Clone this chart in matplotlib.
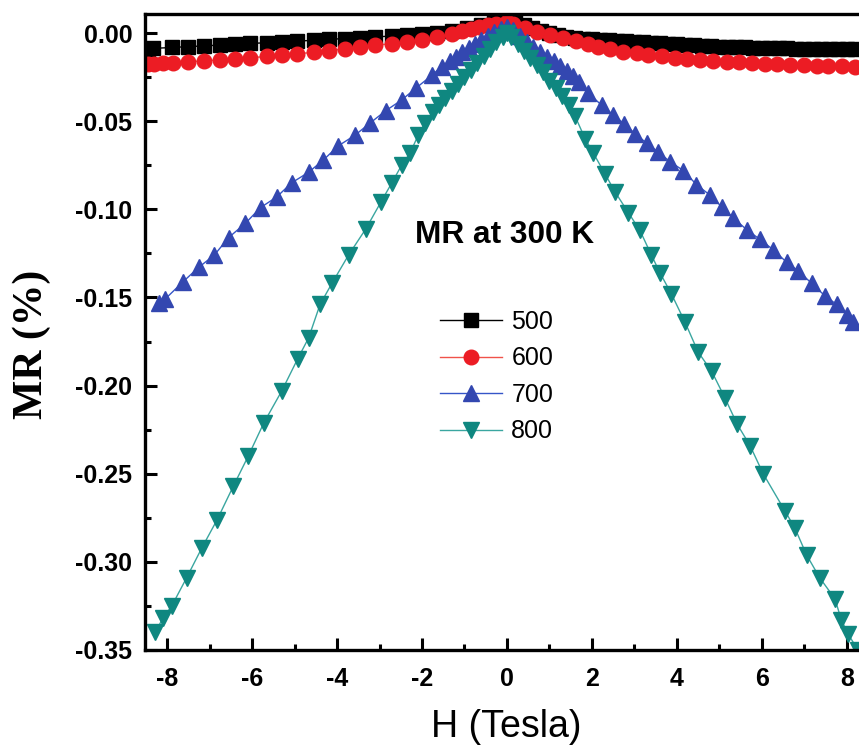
import matplotlib
matplotlib.use("Agg")
import matplotlib.pyplot as plt
from matplotlib.ticker import MultipleLocator, FormatStrFormatter

plt.rcParams['axes.unicode_minus'] = False
plt.rcParams['font.family'] = ['Liberation Sans', 'DejaVu Sans']

# 500
h_500 = [-8.45, -8.33, -7.89, -7.5, -7.14, -6.75, -6.4, -6.05, -5.65, -5.3, -4.95, -4.55,
         -4.2, -3.81, -3.46, -3.1, -2.71, -2.36, -2.0, -1.65, -1.3, -0.95, -0.6, -0.3, 0.0,
         0.2, 0.4, 0.6, 0.8, 1.0, 1.2, 1.4, 1.6, 1.8, 2.0, 2.2, 2.4, 2.6, 2.8, 3.0, 3.2, 3.4,
         3.6, 3.8, 4.0, 4.2, 4.4, 4.6, 4.8, 5.0, 5.2, 5.4, 5.6, 5.8, 6.0, 6.2, 6.4, 6.6, 6.8,
         7.0, 7.2, 7.4, 7.6, 7.8, 8.0, 8.2]
mr_500 = [-0.0089, -0.0087, -0.0082, -0.0077, -0.0073, -0.0068, -0.0064, -0.0059, -0.0055,
          -0.0050, -0.0046, -0.0041, -0.0036, -0.0031, -0.0027, -0.0022, -0.0017, -0.0012,
          -0.0006, 0.0000, 0.0014, 0.0030, 0.0048, 0.0065, 0.0085,
          0.0065, 0.0045, 0.0028, 0.0012, 0.0000, -0.0012, -0.0022, -0.0028, -0.0032, -0.0035,
          -0.0038, -0.0041, -0.0043, -0.0046, -0.0049, -0.0052, -0.0055, -0.0058, -0.0061,
          -0.0064, -0.0067, -0.0070, -0.0073, -0.0075, -0.0077, -0.0079, -0.0081, -0.0082,
          -0.0083, -0.0084, -0.0085, -0.0086, -0.0087, -0.0088, -0.0089, -0.0089, -0.0090,
          -0.0090, -0.0091, -0.0091, -0.0092]

# 600
h_600 = [-8.45, -8.3, -8.1, -7.85, -7.5, -7.14, -6.75, -6.4, -6.05, -5.65, -5.3, -4.95, -4.55,
         -4.2, -3.81, -3.46, -3.1, -2.71, -2.36, -2.0, -1.65, -1.30, -1.07, -0.85, -0.65, -0.45,
         -0.25, 0.0, 0.15, 0.43, 0.71, 1.02, 1.33, 1.62, 1.90, 2.15, 2.42, 2.74, 3.05, 3.33,
         3.64, 3.95, 4.23, 4.55, 4.86, 5.17, 5.45, 5.76, 6.07, 6.35, 6.66, 6.98, 7.29, 7.56,
         7.88, 8.19]
mr_600 = [-0.0176, -0.0173, -0.0171, -0.0168, -0.0163, -0.0158, -0.0152, -0.0146, -0.0140,
          -0.0133, -0.0127, -0.0117, -0.0110, -0.0100, -0.0090, -0.0080, -0.0070, -0.0060,
          -0.0050, -0.0037, -0.0022, -0.0005, 0.0010, 0.0022, 0.0033, 0.0043, 0.0052, 0.0060,
          0.0050, 0.0027, 0.0005, -0.0012, -0.0027, -0.0045, -0.0062, -0.0078, -0.0093, -0.0105,
          -0.0115, -0.0124, -0.0133, -0.0141, -0.0147, -0.0153, -0.0158, -0.0163, -0.0166,
          -0.0171, -0.0175, -0.0178, -0.0181, -0.0183, -0.0185, -0.0187, -0.0188, -0.0191]

# 700
h_700 = [-8.2, -8.05, -7.62, -7.26, -6.89, -6.55, -6.16, -5.80, -5.42, -5.07, -4.67, -4.32,
         -3.97, -3.58, -3.22, -2.85, -2.48, -2.13, -1.77, -1.54, -1.35, -1.2, -1.05, -0.9,
         -0.75, -0.6, -0.45, -0.3, -0.15, 0.0, 0.15, 0.3, 0.47, 0.62, 0.78, 0.94, 1.1, 1.25,
         1.41, 1.55, 1.69, 1.91, 2.23, 2.50, 2.76, 3.01, 3.29, 3.56, 3.84, 4.15, 4.46, 4.78,
         5.05, 5.33, 5.64, 5.95, 6.27, 6.58, 6.86, 7.17, 7.48, 7.76, 8.0, 8.15]
mr_700 = [-0.153, -0.151, -0.141, -0.133, -0.126, -0.116, -0.108, -0.099, -0.093, -0.085,
          -0.079, -0.072, -0.064, -0.058, -0.051, -0.044, -0.038, -0.031, -0.024, -0.019,
          -0.016, -0.0135, -0.011, -0.0087, -0.0063, -0.0040, -0.0017, 0.0005, 0.0025, 0.0035,
          0.0015, -0.0015, -0.0050, -0.0080, -0.0110, -0.0135, -0.0160, -0.0185, -0.0215,
          -0.0245, -0.0275, -0.0340, -0.0410, -0.0465, -0.0515, -0.0570, -0.0625, -0.0675,
          -0.0730, -0.0780, -0.0860, -0.0920, -0.0985, -0.1050, -0.1115, -0.1170, -0.1230,
          -0.1300, -0.1350, -0.1420, -0.1490, -0.1540, -0.1600, -0.1640]

# 800
h_800 = [-8.28, -8.10, -7.89, -7.54, -7.18, -6.82, -6.44, -6.09, -5.72, -5.30, -4.93, -4.67,
         -4.40, -4.12, -3.73, -3.32, -2.97, -2.71, -2.48, -2.28, -2.09, -1.93, -1.75, -1.6,
         -1.45, -1.3, -1.15, -1.0, -0.85, -0.7, -0.55, -0.4, -0.25, -0.1, 0.0, 0.1, 0.25, 0.4,
         0.55, 0.7, 0.85, 1.0, 1.15, 1.3, 1.45, 1.6, 1.84, 2.03, 2.31, 2.54, 2.86, 3.13, 3.40,
         3.60, 3.87, 4.19, 4.50, 4.82, 5.13, 5.42, 5.72, 6.03, 6.54, 6.78, 7.05, 7.36, 7.72,
         7.87, 8.03, 8.26]
mr_800 = [-0.340, -0.332, -0.325, -0.309, -0.292, -0.276, -0.257, -0.240, -0.221, -0.203,
          -0.185, -0.173, -0.154, -0.142, -0.126, -0.111, -0.096, -0.085, -0.075, -0.068,
          -0.058, -0.051, -0.045, -0.041, -0.037, -0.033, -0.029, -0.025, -0.021, -0.017,
          -0.013, -0.009, -0.005, -0.002, 0.000, -0.002, -0.006, -0.010, -0.014, -0.018,
          -0.022, -0.027, -0.031, -0.036, -0.041, -0.047, -0.060, -0.068, -0.080, -0.090,
          -0.102, -0.112, -0.126, -0.136, -0.148, -0.164, -0.181, -0.192, -0.207, -0.222,
          -0.234, -0.250, -0.271, -0.281, -0.296, -0.309, -0.321, -0.333, -0.341, -0.350]

fig = plt.figure(figsize=(8.59, 7.49), dpi=100)
ax = fig.add_axes([0.1688, 0.1322, 0.8428, 0.8491])

ax.plot(h_500, mr_500, '-s', color='black', lw=1.0, ms=10, mec='black', label='500')
ax.plot(h_600, mr_600, '-o', color='#f0524a', lw=1.0, ms=10.5, mfc='#ec1c24', mec='#ec1c24', label='600')
ax.plot(h_700, mr_700, '-^', color='#3555c8', lw=1.0, ms=11.5, mfc='#3347b0', mec='#3347b0', label='700')
ax.plot(h_800, mr_800, '-v', color='#3aa6a0', lw=1.0, ms=11, mfc='#0f8780', mec='#0f8780', label='800')

ax.set_xlim(-8.52, 8.52)
ax.set_ylim(-0.35, 0.0108)

ax.xaxis.set_major_locator(MultipleLocator(2))
ax.xaxis.set_minor_locator(MultipleLocator(1))
ax.yaxis.set_major_locator(MultipleLocator(0.05))
ax.yaxis.set_minor_locator(MultipleLocator(0.025))
ax.yaxis.set_major_formatter(FormatStrFormatter('%.2f'))
ax.xaxis.set_major_formatter(FormatStrFormatter('%d'))

ax.tick_params(which='both', direction='in', top=False, right=False, width=2.2)
ax.tick_params(which='major', length=8.5)
ax.tick_params(which='minor', length=4.5)
ax.tick_params(axis='y', which='major', pad=9)
ax.tick_params(axis='x', which='major', pad=12)
for lab in ax.get_xticklabels() + ax.get_yticklabels():
    lab.set_fontweight('bold')
    lab.set_fontsize(18)

for sp in ax.spines.values():
    sp.set_linewidth(2.4)

ax.set_xlabel('H (Tesla)', fontsize=27)
ax.xaxis.label.set_va('center')
ax.xaxis.set_label_coords(0.4986, -0.121)
ax.set_ylabel('MR (%)', fontsize=30, fontweight='bold', family='Liberation Serif')
ax.yaxis.label.set_va('center')
ax.yaxis.set_label_coords(-0.156, 0.48)

fig.text(0.587, 0.686, 'MR at 300 K', fontsize=22.8, fontweight='bold', ha='center', va='center')

ax.legend(loc='center left', bbox_to_anchor=(0.512, 0.497), bbox_transform=fig.transFigure,
          frameon=False, fontsize=18, handlelength=2.5, handletextpad=0.36,
          labelspacing=0.5, borderpad=0, borderaxespad=0, numpoints=1)

fig.savefig('out.png', dpi=100)
